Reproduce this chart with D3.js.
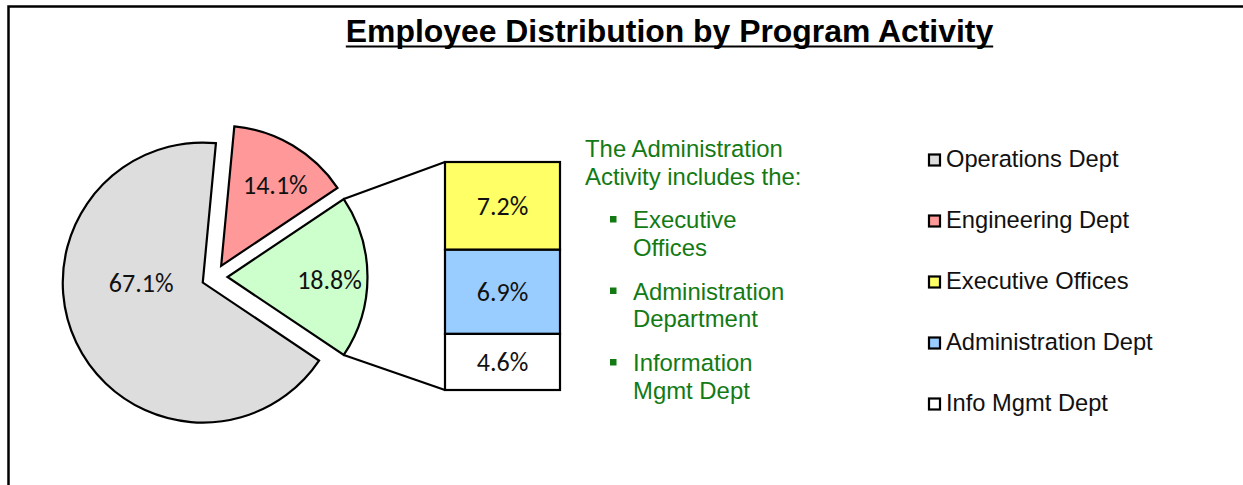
<!DOCTYPE html>
<html>
<head>
<meta charset="utf-8">
<script src="https://cdn.jsdelivr.net/npm/d3@7"></script>
<style>
  body { margin: 0; background: #fff; }
  svg { display: block; }
</style>
</head>
<body>
<svg id="chart"></svg>
<script>
// Data
const pieCategories = ["Operations Dept", "Engineering Dept", "Administration Activity"];
const pieValues = [67.1, 14.1, 18.8];
const pieColors = ["#dddddd", "#ff9999", "#ccffcc"];

const barCategories = ["Executive Offices", "Administration Dept", "Info Mgmt Dept"];
const barValues = [7.2, 6.9, 4.6];
const barColors = ["#ffff66", "#99ccff", "#ffffff"];

const legendLabels = ["Operations Dept", "Engineering Dept", "Executive Offices", "Administration Dept", "Info Mgmt Dept"];
const legendColors = ["#dddddd", "#ff9999", "#ffff66", "#99ccff", "#ffffff"];

const noteHeader = ["The Administration", "Activity includes the:"];
const noteItems = [["Executive", "Offices"], ["Administration", "Department"], ["Information", "Mgmt Dept"]];

const titleText = "Employee Distribution by Program Activity";

// Layout
const width = 1243;
const height = 485;
const cx = 214.5;
const cy = 277;
const radius = 140;
const explode = 13;
const barLeft = 445;
const barWidth = 115;
const barTop = 162;
const barBottom = 390;
const green = "#137a13";
const labelFont = "Calibri, Carlito, Lato, sans-serif";
const textFont = "Arial, 'Liberation Sans', sans-serif";

const svg = d3.select("#chart")
    .attr("width", width)
    .attr("height", height);

// frame (only top and left edges visible in the crop)
svg.append("rect")
    .attr("x", 8.5).attr("y", 6.5)
    .attr("width", width + 20).attr("height", height + 20)
    .attr("fill", "none")
    .attr("stroke", "#000")
    .attr("stroke-width", 2.5);

// Title
const title = svg.append("text")
    .attr("x", 669.5).attr("y", 42)
    .attr("text-anchor", "middle")
    .style("font-family", textFont)
    .style("font-weight", "bold")
    .style("font-size", "31.9px")
    .text(titleText);
const tw = title.node().getComputedTextLength();
svg.append("line")
    .attr("x1", 669.5 - tw / 2).attr("x2", 669.5 + tw / 2)
    .attr("y1", 46.5).attr("y2", 46.5)
    .attr("stroke", "#000").attr("stroke-width", 2.2);

// Pie: rotate so the "other" slice is centred at 3 o'clock
const total = d3.sum(pieValues);
const angleOf = v => v / total * 2 * Math.PI;
const before = angleOf(pieValues[0]) + angleOf(pieValues[1]) + angleOf(pieValues[2]) / 2;
const start = Math.PI / 2 - before;

const pie = d3.pie().sort(null).value(d => d)
    .startAngle(start).endAngle(start + 2 * Math.PI);
const arcs = pie(pieValues);

const arc = d3.arc().innerRadius(0).outerRadius(radius);
const labelArc = d3.arc().innerRadius(radius * 0.7).outerRadius(radius * 0.7);

function sliceCenter(d) {
    const mid = (d.startAngle + d.endAngle) / 2;
    return [cx + explode * Math.sin(mid), cy - explode * Math.cos(mid)];
}

const slices = svg.append("g").selectAll("g.slice")
    .data(arcs)
    .join("g")
    .attr("class", "slice")
    .attr("transform", d => `translate(${sliceCenter(d)})`);

slices.append("path")
    .attr("d", arc)
    .attr("fill", (d, i) => pieColors[i])
    .attr("stroke", "#000")
    .attr("stroke-width", 2.2)
    .attr("stroke-linejoin", "miter");

slices.append("text")
    .attr("transform", (d, i) => {
        if (i === 0) return `translate(${-radius * 0.44},0)`; // best-fit spot for the big slice
        const c = labelArc.centroid(d);
        return `translate(${c[0] + 4},${c[1] + 3})`;
    })
    .attr("text-anchor", "middle")
    .attr("dy", "0.35em")
    .style("font-family", labelFont)
    .style("font-size", "26px")
    .attr("fill", "#111")
    .text(d => d.data.toFixed(1) + "%");

// Bar of the "other" slice
const barTotal = d3.sum(barValues);
const yScale = d3.scaleLinear().domain([0, barTotal]).range([barTop, barBottom]);
const cum = barValues.map((v, i) => d3.sum(barValues.slice(0, i)));

// connector lines
const other = arcs[2];
const oc = sliceCenter(other);
const p1 = [oc[0] + radius * Math.sin(other.startAngle), oc[1] - radius * Math.cos(other.startAngle)];
const p2 = [oc[0] + radius * Math.sin(other.endAngle), oc[1] - radius * Math.cos(other.endAngle)];
svg.append("line")
    .attr("x1", p1[0]).attr("y1", p1[1])
    .attr("x2", barLeft).attr("y2", yScale(0))
    .attr("stroke", "#000").attr("stroke-width", 2.2);
svg.append("line")
    .attr("x1", p2[0]).attr("y1", p2[1])
    .attr("x2", barLeft).attr("y2", yScale(barTotal))
    .attr("stroke", "#000").attr("stroke-width", 2.2);

const bars = svg.append("g").selectAll("g.seg")
    .data(barValues)
    .join("g")
    .attr("class", "seg");

bars.append("rect")
    .attr("x", barLeft)
    .attr("y", (d, i) => yScale(cum[i]))
    .attr("width", barWidth)
    .attr("height", d => yScale(d) - yScale(0))
    .attr("fill", (d, i) => barColors[i])
    .attr("stroke", "#000")
    .attr("stroke-width", 2.2);

bars.append("text")
    .attr("x", barLeft + barWidth / 2)
    .attr("y", (d, i) => yScale(cum[i] + d / 2))
    .attr("dy", "0.35em")
    .attr("text-anchor", "middle")
    .style("font-family", labelFont)
    .style("font-size", "26px")
    .attr("fill", "#111")
    .text(d => d.toFixed(1) + "%");

// Green note text
const note = svg.append("g")
    .style("font-family", textFont)
    .style("font-size", "23.9px")
    .attr("fill", green);

note.selectAll("text.head")
    .data(noteHeader)
    .join("text")
    .attr("class", "head")
    .attr("x", 585)
    .attr("y", (d, i) => 157 + i * 28)
    .text(d => d);

noteItems.forEach((item, k) => {
    const base = 228 + k * 71.5;
    note.append("rect")
        .attr("x", 610).attr("y", base - 12)
        .attr("width", 6.5).attr("height", 6.5)
        .attr("fill", green);
    note.selectAll(null)
        .data(item)
        .join("text")
        .attr("x", 633)
        .attr("y", (d, i) => base + i * 27.5)
        .text(d => d);
});

// Legend
const legend = svg.append("g").selectAll("g.legend")
    .data(legendLabels)
    .join("g")
    .attr("class", "legend")
    .attr("transform", (d, i) => `translate(929, ${159 + i * 61})`);

legend.append("rect")
    .attr("x", 0).attr("y", -4.5)
    .attr("width", 11).attr("height", 11)
    .attr("fill", (d, i) => legendColors[i])
    .attr("stroke", "#000")
    .attr("stroke-width", 2.2);

legend.append("text")
    .attr("x", 17)
    .attr("dy", "0.35em")
    .style("font-family", textFont)
    .style("font-size", "23.7px")
    .attr("fill", "#111")
    .text(d => d);
</script>
</body>
</html>
